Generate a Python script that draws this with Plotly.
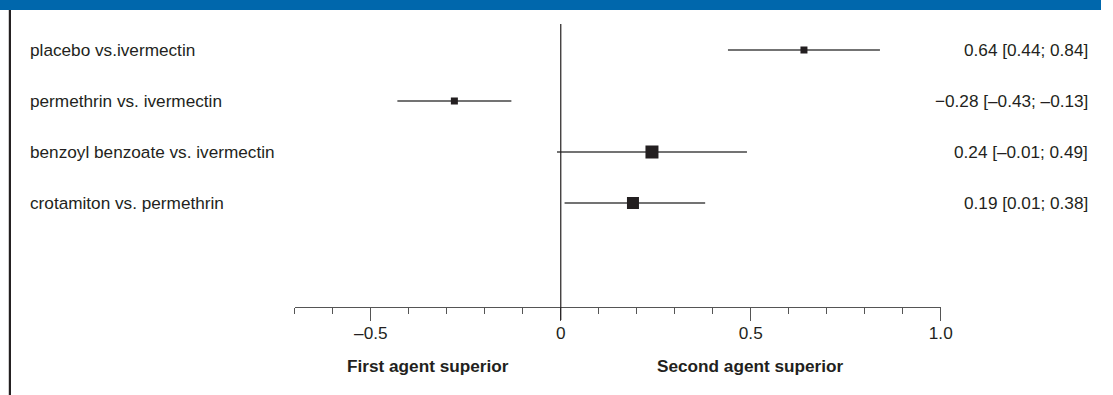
import plotly.graph_objects as go

comparisons = ["placebo vs.ivermectin", "permethrin vs. ivermectin",
               "benzoyl benzoate vs. ivermectin", "crotamiton vs. permethrin"]
estimate = [0.64, -0.28, 0.24, 0.19]
ci_low = [0.44, -0.43, -0.01, 0.01]
ci_high = [0.84, -0.13, 0.49, 0.38]
ci_text = ["0.64 [0.44; 0.84]", "\u22120.28 [\u20130.43; \u20130.13]",
           "0.24 [\u20130.01; 0.49]", "0.19 [0.01; 0.38]"]
weight_size = [7, 7, 13, 12]
tick_vals = [-0.5, 0, 0.5, 1.0]
tick_text = ["\u20130.5", "0", "0.5", "1.0"]

W, H = 1113, 395
ypos = [4, 3, 2, 1]
FS = 17.2
ink = "#231f20"

fig = go.Figure()
for i in range(len(comparisons)):
    fig.add_trace(go.Scatter(x=[ci_low[i], ci_high[i]], y=[ypos[i], ypos[i]],
                             mode="lines", line=dict(color="#444444", width=1.3),
                             showlegend=False, hoverinfo="skip"))
fig.add_trace(go.Scatter(x=estimate, y=ypos, mode="markers",
                         marker=dict(symbol="square", size=weight_size, color=ink,
                                     opacity=1, line=dict(width=0)),
                         showlegend=False))

font_family = "Liberation Sans, Arial, sans-serif"
for i, lab in enumerate(comparisons):
    fig.add_annotation(x=28 / W, y=ypos[i], xref="paper", yref="y", text=lab,
                       showarrow=False, xanchor="left", yanchor="middle",
                       font=dict(size=FS, color=ink, family=font_family))
    fig.add_annotation(x=1102 / W, y=ypos[i], xref="paper", yref="y", text=ci_text[i],
                       showarrow=False, xanchor="right", yanchor="middle",
                       font=dict(size=FS, color=ink, family=font_family))

fig.add_annotation(x=-0.35, y=1 - 366 / H, xref="x", yref="paper",
                   text="<b>First agent superior</b>", showarrow=False,
                   xanchor="center", yanchor="middle",
                   font=dict(size=FS, color=ink, family=font_family))
fig.add_annotation(x=0.5, y=1 - 366 / H, xref="x", yref="paper",
                   text="<b>Second agent superior</b>", showarrow=False,
                   xanchor="center", yanchor="middle",
                   font=dict(size=FS, color=ink, family=font_family))

# reference line at 0
fig.add_shape(type="line", x0=0, x1=0, xref="x", y0=1 - 24 / H, y1=1 - 320 / H,
              yref="paper", line=dict(color=ink, width=1.2))
# top blue band
fig.add_shape(type="rect", x0=0, x1=1, xref="paper", y0=1 - 10 / H, y1=1.0,
              yref="paper", fillcolor="#0067ac", line=dict(width=0), layer="below")
# left border
fig.add_shape(type="line", x0=10 / W, x1=10 / W, xref="paper", y0=0, y1=1 - 10 / H,
              yref="paper", line=dict(color=ink, width=2.2))

y_bottom = 4 - (307 - 50) / 51
y_top = 4 + (50 - 10) / 51
fig.update_layout(
    width=W, height=H, margin=dict(l=0, r=0, t=0, b=0),
    paper_bgcolor="white", plot_bgcolor="white",
    xaxis=dict(domain=[298 / W, 951 / W], range=[-0.7, 1.0],
               showgrid=False, zeroline=False, showline=True, linecolor="#555555",
               linewidth=1.2, ticks="outside", ticklen=13, tickwidth=1.2,
               tickcolor="#555555", tickvals=tick_vals, ticktext=tick_text,
               ticklabelstandoff=-3,
               tickfont=dict(size=FS, color=ink, family=font_family),
               minor=dict(dtick=0.1, tick0=0, ticks="outside", ticklen=6,
                          tickwidth=1.2, tickcolor="#555555", showgrid=False)),
    yaxis=dict(domain=[1 - 307 / H, 1 - 10 / H], range=[y_bottom, y_top],
               visible=False, showgrid=False, zeroline=False),
)

post = ("document.documentElement.style.margin='0';"
        "document.documentElement.style.overflow='hidden';"
        "document.body.style.margin='0';"
        "document.body.style.overflow='hidden';"
        "var gd=document.getElementById('{plot_id}');"
        "gd.style.display='block';"
        "if(gd.parentElement){gd.parentElement.style.lineHeight='0';"
        "gd.parentElement.style.height='395px';gd.parentElement.style.overflow='hidden';}")
fig.write_html("out.html", config={"displayModeBar": False}, post_script=post)
